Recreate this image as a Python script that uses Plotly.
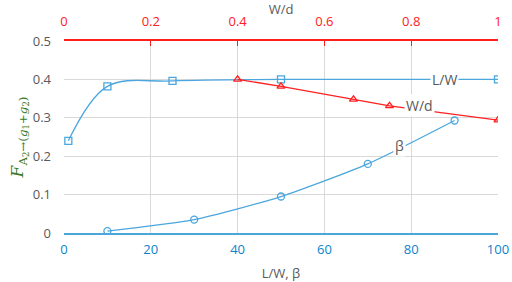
import plotly.graph_objects as go

# L/W series (bottom axis)
lw_x = [1, 10, 25, 50, 100]
lw_y = [0.24, 0.382, 0.396, 0.40, 0.40]
# W/d series (top axis)
wd_x = [0.4, 0.5, 0.667, 0.75, 1.0]
wd_y = [0.40, 0.382, 0.348, 0.331, 0.294]
# beta series (bottom axis)
b_x = [10, 30, 50, 70, 90]
b_y = [0.005, 0.035, 0.095, 0.18, 0.293]

bottom_ticks = [0, 20, 40, 60, 80, 100]
top_ticks = [0, 0.2, 0.4, 0.6, 0.8, 1]
top_labels = ["0", "0.2", "0.4", "0.6", "0.8", "1"]
y_ticks = [0, 0.1, 0.2, 0.3, 0.4, 0.5]
y_labels = ["0", "0.1", "0.2", "0.3", "0.4", "0.5"]

BLUE = "#4BA6DE"
RED = "#FF2020"
GRID = "#D9D9D9"
GRAY = "#595959"

fig = go.Figure()
fig.add_trace(go.Scatter(x=lw_x, y=lw_y, mode="lines+markers",
                         line=dict(color=BLUE, width=1.3, shape="spline", smoothing=1.0),
                         marker=dict(symbol="square-open", size=7, color=BLUE, line=dict(width=1.3)),
                         xaxis="x", yaxis="y", showlegend=False))
fig.add_trace(go.Scatter(x=b_x, y=b_y, mode="lines+markers",
                         line=dict(color=BLUE, width=1.3, shape="spline", smoothing=0.6),
                         marker=dict(symbol="circle-open", size=7, color=BLUE, line=dict(width=1.3)),
                         xaxis="x", yaxis="y", showlegend=False))
fig.add_trace(go.Scatter(x=wd_x, y=wd_y, mode="lines+markers",
                         line=dict(color=RED, width=1.3),
                         marker=dict(symbol="triangle-up-open", size=7, color=RED, line=dict(width=1.3)),
                         xaxis="x2", yaxis="y", showlegend=False))

font_main = "Open Sans, DejaVu Sans, sans-serif"
ann_font = dict(family=font_main, size=14, color=GRAY)
fig.add_annotation(x=87.7, y=0.40, xref="x", yref="y", text="L/W", showarrow=False,
                   font=ann_font, bgcolor="white")
fig.add_annotation(x=81.9, y=0.331, xref="x", yref="y", text="W/d", showarrow=False,
                   font=ann_font, bgcolor="white")
fig.add_annotation(x=77.3, y=0.227, xref="x", yref="y", text="β", showarrow=False,
                   font=ann_font, bgcolor="white")

fig.update_layout(
    width=512, height=282,
    margin=dict(l=64, r=14, t=41, b=49),
    paper_bgcolor="white", plot_bgcolor="white",
    font=dict(family=font_main, size=13, color=GRAY),
    xaxis=dict(range=[0, 100], tickvals=bottom_ticks, showgrid=True, gridcolor=GRID,
               zeroline=False, showline=True, linecolor=BLUE, linewidth=1.5,
               ticks="", tickfont=dict(color="#0A84CC", size=13), automargin=False,
               ticklabelstandoff=4, ticklabeloverflow="allow",
               title=dict(text="L/W, β", font=dict(color=GRAY, size=13), standoff=12)),
    xaxis2=dict(range=[0, 1], tickvals=top_ticks, ticktext=top_labels, overlaying="x",
                side="top", showgrid=False, zeroline=False, showline=True, automargin=False,
                linecolor=RED, linewidth=1.5, ticks="inside", ticklen=5, tickcolor=RED,
                tickfont=dict(color=RED, size=13), ticklabelstandoff=8,
                ticklabeloverflow="allow",
                title=dict(text="W/d", font=dict(color=GRAY, size=13), standoff=4)),
    yaxis=dict(range=[0, 0.5], tickvals=y_ticks, ticktext=y_labels, showgrid=True,
               gridcolor=GRID, zeroline=False, showline=False, ticks="", automargin=False,
               tickfont=dict(color=GRAY, size=13), ticklabelstandoff=12,
               title=dict(text="<i>F</i><sub>A<sub>2</sub>→(<i>g</i><sub>1</sub>+<i>g</i><sub>2</sub>)</sub>",
                          font=dict(color="#3A7A2A", size=17, family="DejaVu Serif, serif"),
                          standoff=4)),
)

fig.write_html("out.html", config={"displayModeBar": False},
               post_script=("document.body.style.margin='0';document.body.style.padding='0';"
                            "document.body.style.overflow='hidden';"
                            "document.documentElement.style.overflow='hidden';"))
